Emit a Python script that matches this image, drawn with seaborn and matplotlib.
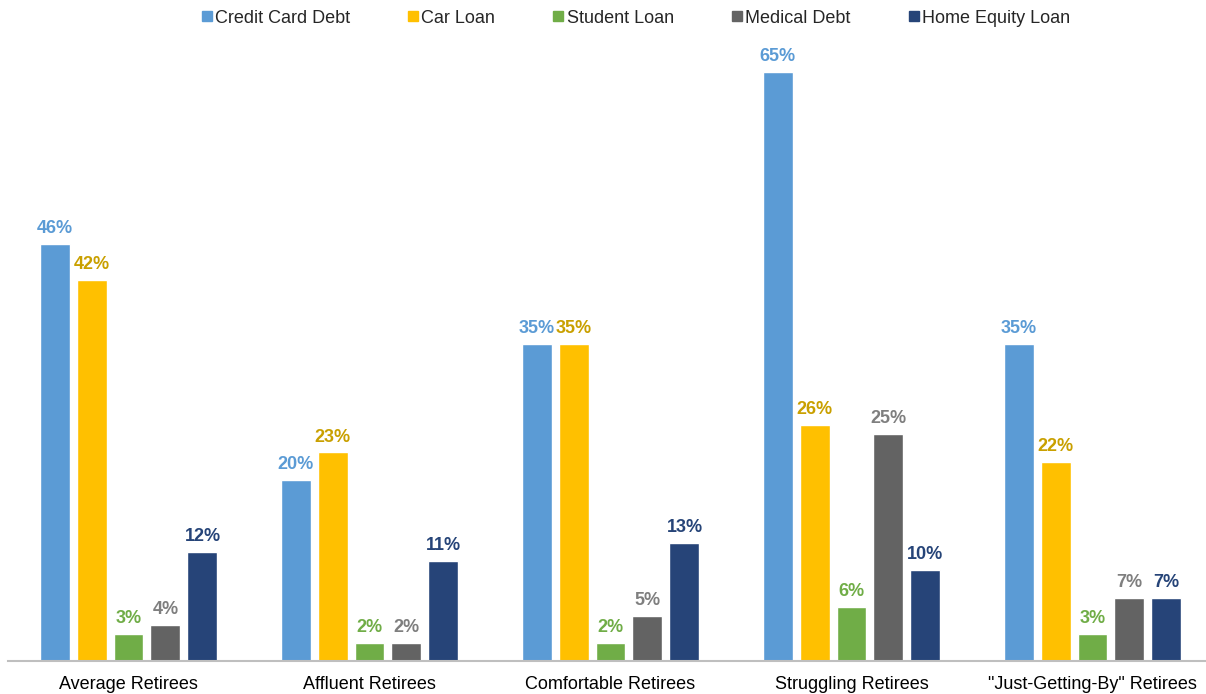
import matplotlib
matplotlib.use("Agg")
import matplotlib.pyplot as plt
from matplotlib.lines import Line2D
import seaborn as sns
import pandas as pd

groups = ["Average Retirees", "Affluent Retirees", "Comfortable Retirees",
          "Struggling Retirees", "\"Just-Getting-By\" Retirees"]
debt_types = ["Credit Card Debt", "Car Loan", "Student Loan", "Medical Debt", "Home Equity Loan"]

credit_card = [46, 20, 35, 65, 35]
car_loan = [42, 23, 35, 26, 22]
student_loan = [3, 2, 2, 6, 3]
medical_debt = [4, 2, 5, 25, 7]
home_equity = [12, 11, 13, 10, 7]

bar_colors = ["#5B9BD5", "#FFC000", "#70AD47", "#636363", "#264478"]
label_colors = ["#5B9BD5", "#C9A000", "#70AD47", "#7F7F7F", "#264478"]

series = [credit_card, car_loan, student_loan, medical_debt, home_equity]
df = pd.DataFrame({
    "group": [g for s in series for g in groups],
    "debt": [d for d, s in zip(debt_types, series) for _ in s],
    "pct": [v for s in series for v in s],
})

sns.set_theme(style="white")
plt.rcParams["font.family"] = ["Liberation Sans", "DejaVu Sans"]

W, H = 1206, 694
fig = plt.figure(figsize=(W / 100, H / 100), dpi=100)
ax = fig.add_axes([8 / W, (H - 661) / H, 1205 / W, (661 - 30) / H])

sns.barplot(data=df, x="group", y="pct", hue="debt", order=groups,
            hue_order=debt_types, palette=bar_colors, width=0.767, gap=0.19,
            saturation=1, legend=False, ax=ax)

for cont, col in zip(ax.containers, label_colors):
    ax.bar_label(cont, labels=[f"{v:.0f}%" for v in cont.datavalues],
                 color=col, fontsize=13, fontweight="bold", padding=5)

ax.set_xlim(-0.5, 4.5)
ax.set_ylim(0, 69.6)
ax.set_xlabel("")
ax.set_ylabel("")
ax.set_yticks([])
ax.tick_params(axis="x", length=0, pad=11, labelsize=13, labelcolor="#000000")
for side in ["left", "right", "top"]:
    ax.spines[side].set_visible(False)
ax.spines["bottom"].set_color("#BFBFBF")
ax.spines["bottom"].set_linewidth(1.5)

handles = [Line2D([], [], marker="s", linestyle="", color=c, markersize=7.5)
           for c in bar_colors]
fig.legend(handles, debt_types, loc="center", bbox_to_anchor=(0.527, 0.974),
           ncol=5, frameon=False, fontsize=13, handlelength=0.6,
           handletextpad=0.15, columnspacing=3.2, borderaxespad=0)

fig.savefig("out.png", dpi=100)
